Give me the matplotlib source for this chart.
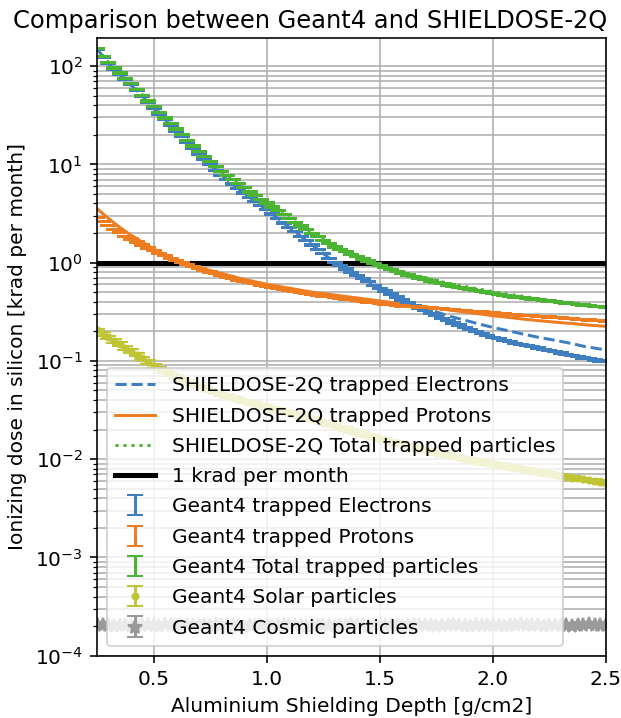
import numpy as np
import matplotlib
matplotlib.use("Agg")
import matplotlib.pyplot as plt

# ---- SHIELDOSE-2Q results, 0.05 g/cm2 steps [krad/month] ----
depth_sd = [0.25, 0.30, 0.35, 0.40, 0.45, 0.50, 0.55, 0.60, 0.65, 0.70,
            0.75, 0.80, 0.85, 0.90, 0.95, 1.00, 1.05, 1.10, 1.15, 1.20,
            1.25, 1.30, 1.35, 1.40, 1.45, 1.50, 1.55, 1.60, 1.65, 1.70,
            1.75, 1.80, 1.85, 1.90, 1.95, 2.00, 2.05, 2.10, 2.15, 2.20,
            2.25, 2.30, 2.35, 2.40, 2.45, 2.50]

sd_electrons = [150.0, 106.0, 82.5, 64.0, 49.5, 37.5, 28.6, 22.0, 16.8, 12.8,
                9.95, 7.80, 6.30, 5.10, 4.18, 3.44, 2.81, 2.29, 1.87, 1.52,
                1.24, 1.01, 0.865, 0.745, 0.642, 0.553, 0.482, 0.419, 0.380, 0.347,
                0.316, 0.288, 0.269, 0.251, 0.234, 0.219, 0.207, 0.195, 0.184, 0.174,
                0.166, 0.158, 0.150, 0.141, 0.135, 0.129]

sd_protons = [3.55, 2.82, 2.29, 1.905, 1.62, 1.38, 1.20, 1.07, 0.977, 0.891,
              0.832, 0.776, 0.724, 0.676, 0.638, 0.603, 0.575, 0.550, 0.525, 0.501,
              0.484, 0.468, 0.452, 0.437, 0.422, 0.407, 0.394, 0.380, 0.367, 0.355,
              0.343, 0.331, 0.320, 0.309, 0.299, 0.288, 0.280, 0.272, 0.264, 0.257,
              0.251, 0.245, 0.240, 0.234, 0.229, 0.225]

sd_total = [153.6, 108.8, 84.8, 65.9, 51.1, 38.9, 29.8, 23.1, 17.8, 13.7,
            10.78, 8.58, 7.02, 5.78, 4.82, 4.04, 3.39, 2.84, 2.40, 2.02,
            1.72, 1.48, 1.32, 1.18, 1.06, 0.960, 0.876, 0.799, 0.747, 0.702,
            0.659, 0.619, 0.589, 0.560, 0.533, 0.507, 0.487, 0.467, 0.448, 0.431,
            0.417, 0.403, 0.390, 0.375, 0.364, 0.354]

# ---- Geant4 results, 0.025 g/cm2 steps [krad/month] ----
depth_g4 = [0.250, 0.275, 0.300, 0.325, 0.350, 0.375, 0.400, 0.425, 0.450, 0.475,
            0.500, 0.525, 0.550, 0.575, 0.600, 0.625, 0.650, 0.675, 0.700, 0.725,
            0.750, 0.775, 0.800, 0.825, 0.850, 0.875, 0.900, 0.925, 0.950, 0.975,
            1.000, 1.025, 1.050, 1.075, 1.100, 1.125, 1.150, 1.175, 1.200, 1.225,
            1.250, 1.275, 1.300, 1.325, 1.350, 1.375, 1.400, 1.425, 1.450, 1.475,
            1.500, 1.525, 1.550, 1.575, 1.600, 1.625, 1.650, 1.675, 1.700, 1.725,
            1.750, 1.775, 1.800, 1.825, 1.850, 1.875, 1.900, 1.925, 1.950, 1.975,
            2.000, 2.025, 2.050, 2.075, 2.100, 2.125, 2.150, 2.175, 2.200, 2.225,
            2.250, 2.275, 2.300, 2.325, 2.350, 2.375, 2.400, 2.425, 2.450, 2.475,
            2.500]

g4_electrons = [147.9, 123.0, 107.2, 93.3, 83.2, 73.3, 64.6, 56.2, 49.0, 42.7,
                37.2, 32.4, 28.5, 25.1, 21.9, 19.1, 16.6, 14.5, 12.6, 11.2,
                9.89, 8.71, 7.76, 7.00, 6.31, 5.69, 5.13, 4.62, 4.22, 3.80,
                3.47, 3.13, 2.82, 2.54, 2.29, 2.07, 1.86, 1.68, 1.51, 1.36,
                1.23, 1.11, 1.00, 0.933, 0.861, 0.794, 0.741, 0.684, 0.638, 0.589,
                0.550, 0.513, 0.479, 0.447, 0.417, 0.389, 0.367, 0.343, 0.324, 0.305,
                0.288, 0.272, 0.257, 0.243, 0.232, 0.219, 0.209, 0.200, 0.191, 0.182,
                0.174, 0.168, 0.162, 0.157, 0.151, 0.147, 0.143, 0.139, 0.135, 0.131,
                0.127, 0.124, 0.120, 0.117, 0.114, 0.110, 0.107, 0.105, 0.102, 0.100,
                0.098]

g4_protons = [2.88, 2.63, 2.40, 2.19, 2.04, 1.86, 1.74, 1.62, 1.51, 1.41,
              1.32, 1.245, 1.175, 1.109, 1.047, 1.000, 0.955, 0.912, 0.871, 0.836,
              0.804, 0.771, 0.741, 0.716, 0.692, 0.668, 0.646, 0.627, 0.610, 0.592,
              0.575, 0.562, 0.550, 0.537, 0.525, 0.513, 0.501, 0.490, 0.479, 0.469,
              0.459, 0.451, 0.442, 0.435, 0.427, 0.419, 0.412, 0.405, 0.398, 0.391,
              0.385, 0.379, 0.373, 0.368, 0.363, 0.360, 0.356, 0.354, 0.351, 0.347,
              0.343, 0.339, 0.335, 0.331, 0.327, 0.324, 0.320, 0.317, 0.314, 0.312,
              0.309, 0.305, 0.302, 0.299, 0.295, 0.292, 0.290, 0.288, 0.285, 0.282,
              0.280, 0.278, 0.275, 0.272, 0.269, 0.266, 0.263, 0.261, 0.258, 0.256,
              0.254]

g4_total = [150.8, 125.6, 109.6, 95.5, 85.2, 75.2, 66.3, 57.8, 50.5, 44.1,
            38.5, 33.6, 29.7, 26.2, 22.9, 20.1, 17.6, 15.4, 13.5, 12.0,
            10.69, 9.48, 8.50, 7.72, 7.00, 6.36, 5.78, 5.25, 4.83, 4.39,
            4.05, 3.69, 3.37, 3.08, 2.82, 2.58, 2.36, 2.17, 1.99, 1.83,
            1.69, 1.56, 1.44, 1.37, 1.29, 1.21, 1.15, 1.09, 1.04, 0.980,
            0.935, 0.892, 0.852, 0.815, 0.780, 0.749, 0.723, 0.697, 0.675, 0.652,
            0.631, 0.611, 0.592, 0.574, 0.559, 0.543, 0.529, 0.517, 0.505, 0.494,
            0.483, 0.473, 0.464, 0.456, 0.446, 0.439, 0.433, 0.427, 0.420, 0.413,
            0.407, 0.402, 0.395, 0.389, 0.383, 0.376, 0.370, 0.366, 0.360, 0.356,
            0.352]

g4_solar = [0.204, 0.188, 0.174, 0.160, 0.148, 0.136, 0.126, 0.116, 0.106, 0.0973,
            0.0891, 0.0832, 0.0776, 0.0728, 0.0684, 0.0647, 0.0614, 0.0581, 0.0550, 0.0525,
            0.0501, 0.0479, 0.0457, 0.0439, 0.0422, 0.0406, 0.0389, 0.0376, 0.0363, 0.0351,
            0.0339, 0.0327, 0.0316, 0.0305, 0.0295, 0.0285, 0.0275, 0.0266, 0.0257, 0.0247,
            0.0237, 0.0228, 0.0219, 0.0210, 0.0202, 0.0194, 0.0186, 0.0180, 0.0174, 0.0168,
            0.0162, 0.0157, 0.0151, 0.0146, 0.0141, 0.0136, 0.0132, 0.0127, 0.0123, 0.0120,
            0.0116, 0.0113, 0.0110, 0.0107, 0.0104, 0.0100, 0.00977, 0.00955, 0.00933, 0.00912,
            0.00891, 0.00871, 0.00851, 0.00832, 0.00813, 0.00794, 0.00776, 0.00759, 0.00741, 0.00724,
            0.00708, 0.00692, 0.00676, 0.00662, 0.00649, 0.00637, 0.00624, 0.00611, 0.00600, 0.00587,
            0.00575]

g4_cosmic = [2.08e-4, 2.03e-4, 2.06e-4, 2.01e-4, 2.07e-4, 2.04e-4, 2.02e-4, 2.09e-4, 2.05e-4, 2.03e-4,
             2.06e-4, 2.02e-4, 2.08e-4, 2.04e-4, 2.05e-4, 2.01e-4, 2.07e-4, 2.03e-4, 2.06e-4, 2.04e-4,
             2.02e-4, 2.08e-4, 2.05e-4, 2.03e-4, 2.06e-4, 2.04e-4, 2.01e-4, 2.07e-4, 2.05e-4, 2.03e-4,
             2.06e-4, 2.02e-4, 2.04e-4, 2.08e-4, 2.03e-4, 2.05e-4, 2.06e-4, 2.02e-4, 2.04e-4, 2.07e-4,
             2.03e-4, 2.05e-4, 2.01e-4, 2.06e-4, 2.04e-4, 2.08e-4, 2.03e-4, 2.05e-4, 2.02e-4, 2.06e-4,
             2.04e-4, 2.07e-4, 2.03e-4, 2.05e-4, 2.02e-4, 2.06e-4, 2.04e-4, 2.03e-4, 2.07e-4, 2.05e-4,
             2.02e-4, 2.06e-4, 2.04e-4, 2.08e-4, 2.03e-4, 2.05e-4, 2.01e-4, 2.06e-4, 2.04e-4, 2.07e-4,
             2.03e-4, 2.05e-4, 2.02e-4, 2.06e-4, 2.04e-4, 2.08e-4, 2.03e-4, 2.05e-4, 2.06e-4, 2.02e-4,
             2.04e-4, 2.07e-4, 2.03e-4, 2.05e-4, 2.01e-4, 2.06e-4, 2.04e-4, 2.08e-4, 2.03e-4, 2.05e-4,
             2.06e-4]

# relative statistical uncertainty of the Geant4 runs
rel_err_trapped = 0.015
rel_err_solar = 0.04
rel_err_cosmic = 0.06

c_elec = '#3f7fbf'
c_prot = '#ee7d22'
c_tot = '#4bb432'
c_solar = '#bfc534'
c_cosmic = '#9a9a9a'

fig = plt.figure(figsize=(621 / 145, 718 / 145), dpi=145)
ax = fig.add_axes([0.1562, 0.0868, 0.8196, 0.8608])

ax.plot(depth_sd, sd_electrons, '--', color=c_elec, label='SHIELDOSE-2Q trapped Electrons')
ax.plot(depth_sd, sd_protons, '-', color=c_prot, label='SHIELDOSE-2Q trapped Protons')
ax.plot(depth_sd, sd_total, ':', color=c_tot, label='SHIELDOSE-2Q Total trapped particles')
ax.axhline(1.0, color='black', lw=2.5, label='1 krad per month')

e = np.array(g4_electrons)
p = np.array(g4_protons)
t = np.array(g4_total)
s = np.array(g4_solar)
c = np.array(g4_cosmic)

ax.errorbar(depth_g4, e, yerr=rel_err_trapped * e, fmt='none', ecolor=c_elec,
            capsize=4, label='Geant4 trapped Electrons')
ax.errorbar(depth_g4, p, yerr=rel_err_trapped * p, fmt='none', ecolor=c_prot,
            capsize=4, label='Geant4 trapped Protons')
ax.errorbar(depth_g4, t, yerr=rel_err_trapped * t, fmt='none', ecolor=c_tot,
            capsize=4, label='Geant4 Total trapped particles')
ax.errorbar(depth_g4, s, yerr=rel_err_solar * s, fmt='o', color=c_solar, ms=3,
            capsize=4, label='Geant4 Solar particles')
ax.errorbar(depth_g4, c, yerr=rel_err_cosmic * c, fmt='*', color=c_cosmic, ms=7,
            capsize=4, label='Geant4 Cosmic particles')

ax.set_yscale('log')
ax.set_xlim(0.25, 2.5)
ax.set_ylim(1e-4, 195)
ax.set_xticks([0.5, 1.0, 1.5, 2.0, 2.5])
ax.grid(True, which='both')

fig.suptitle('Comparison between Geant4 and SHIELDOSE-2Q', y=0.988)
ax.set_xlabel('Aluminium Shielding Depth [g/cm2]')
ax.set_ylabel('Ionizing dose in silicon [krad per month]')
ax.legend(loc='lower left', labelspacing=0.56)

fig.savefig('out.png', dpi=145)
